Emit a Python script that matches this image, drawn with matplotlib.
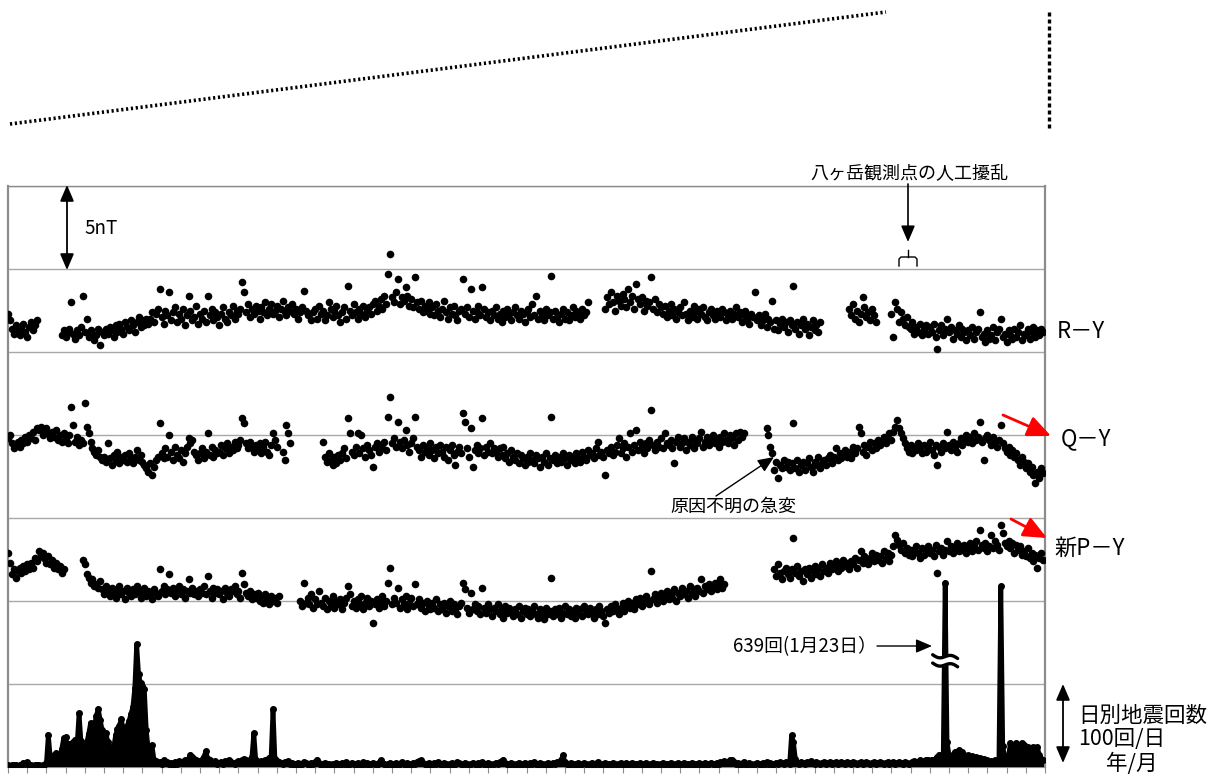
import numpy as np
import matplotlib
matplotlib.use("Agg")
from matplotlib import pyplot as plt

plt.rcParams['font.family'] = ['Noto Sans CJK JP', 'DejaVu Sans']

nan = np.nan

# ---- magnetic field differences (nT, plotted with offsets), one value per day ----
# R-Y : segments start day + values
ry_start = [0, 28, 311, 438, 460]
ry_vals = [
    [27.3, 26.9, 26.4, 26.1, 26.6, 26.3, 26.0, 26.4, 26.7, 26.2, 25.9, 26.5, 26.8, 26.3, 26.6, 26.9],
    [26.0, 26.3, 25.9, 26.2, 26.4, 28.0, 26.1, 25.8, 26.3, 26.0,
     26.5, 28.4, 26.2, 27.0, 25.9, 26.3, 26.1, 25.7, 26.0, 26.4,
     25.4, 26.2, 26.0, 26.4, 26.1, 26.5, 26.3, 25.9, 26.6, 26.2,
     26.7, 26.4, 26.1, 26.8, 26.5, 26.3, 26.9, 26.6, 26.2, 26.8,
     27.1, 26.5, 26.9, 26.6, 27.0, 26.7, 27.0, 27.4, 26.8, 27.3,
     27.6, 28.8, 27.1, 26.7, 27.5, 27.2, 28.6, 26.9, 27.4, 27.7,
     26.8, 27.3, 27.0, 27.6, 26.6, 27.2, 28.4, 27.5, 26.9, 27.1,
     27.8, 26.7, 27.3, 27.0, 27.5, 26.8, 28.4, 27.2, 27.6, 26.9,
     27.4, 27.1, 26.6, 27.3, 27.7, 27.0, 26.8, 27.4, 27.2, 27.8,
     27.0, 27.5, 27.3, 27.6, 29.2, 28.6, 27.4, 27.9, 27.1, 27.6,
     27.3, 27.8, 27.5, 27.0, 27.7, 27.4, 28.0, 27.2, 27.6, 27.9,
     27.3, 27.5, 27.8, 27.1, 27.6, 28.1, 27.4, 27.2, 27.7, 27.5,
     27.9, 27.3, 27.6, 27.0, 27.4, 27.7, 28.7, 27.5, 27.2, 27.3,
     26.9, 27.4, 27.6, 27.0, 27.8, 27.3, 27.5, 26.9, 27.2, 28.0,
     27.6, 27.1, 27.5, 27.8, 27.2, 26.8, 27.4, 27.7, 27.0, 29.0,
     27.5, 27.2, 27.9, 27.4, 27.0, 27.6, 27.3, 27.8, 27.1, 27.5,
     27.7, 27.3, 27.9, 28.1, 27.5, 27.8, 28.2, 27.6, 28.4, 27.9,
     29.7, 30.9, 28.3, 28.0, 28.6, 29.4, 27.9, 28.3, 28.1, 28.9,
     28.4, 27.8, 28.2, 27.7, 29.5, 28.0, 27.6, 28.1, 27.4, 27.8,
     27.5, 28.0, 27.3, 27.7, 27.2, 27.9, 27.5, 27.1, 27.6, 28.1,
     27.4, 27.0, 27.7, 27.3, 27.8, 27.2, 26.9, 27.5, 27.6, 29.4,
     27.3, 27.7, 27.1, 28.8, 27.5, 27.0, 27.4, 27.8, 27.2, 28.9,
     27.6, 27.1, 27.4, 26.9, 27.5, 27.2, 27.7, 27.0, 27.3, 26.8,
     27.5, 27.1, 27.6, 27.3, 26.9, 27.4, 27.7, 27.2, 27.0, 27.5,
     27.3, 26.8, 27.4, 27.6, 27.1, 27.9, 27.2, 28.4, 27.0, 27.5,
     27.3, 26.9, 27.6, 27.2, 27.4, 29.6, 27.0, 27.5, 27.1, 26.8,
     27.3, 27.6, 27.0, 27.4, 26.9, 27.2, 27.7, 27.1, 27.5, 27.3,
     27.0, 27.6, 27.2, 27.4, 28.0],
    [27.6, 28.3, 27.9, 28.6, 28.0, 27.5, 28.4, 28.1, 27.8, 28.5,
     28.2, 27.7, 28.8, 28.0, 28.4, 27.6, 29.1, 28.2, 27.9, 28.3,
     27.5, 28.1, 27.8, 28.0, 29.5, 27.6, 28.2, 27.4, 27.9, 27.7,
     27.3, 27.8, 27.1, 27.5, 27.9, 27.2, 27.6, 27.0, 27.4, 27.7,
     27.2, 28.0, 27.3, 26.9, 27.5, 27.1, 27.8, 27.4, 27.0, 27.6,
     27.3, 27.7, 27.1, 26.9, 27.4, 27.6, 27.2, 27.0, 27.5, 27.3,
     27.1, 27.6, 27.4, 26.9, 27.2, 27.5, 27.0, 27.3, 27.7, 27.1,
     27.4, 26.8, 27.2, 27.5, 27.0, 26.7, 27.3, 27.1, 28.6, 26.9,
     27.2, 26.6, 26.9, 27.3, 26.5, 27.0, 26.8, 28.1, 26.4, 26.9,
     26.3, 26.7, 27.0, 26.5, 26.8, 26.2, 26.9, 26.6, 29.0, 26.4,
     26.8, 26.1, 26.6, 27.0, 26.4, 26.7, 26.0, 26.5, 26.9, 26.3,
     26.6, 26.2, 26.8],
    [27.6, 27.2, 27.9, 27.0, 27.5, 26.8, 27.3, 28.3, 27.7, 27.1, 27.4, 26.9, 27.6, 27.2, 26.8],
    [27.3, 25.9, 28.0, 27.6, 26.8, 27.4, 27.0, 26.6, 27.1, 26.5,
     26.4, 26.8, 26.1, 26.5, 26.2, 26.7, 26.0, 26.4, 26.6, 26.1,
     26.5, 26.2, 26.7, 25.9, 25.2, 26.3, 26.6, 26.0, 26.4, 27.0,
     26.2, 26.5, 25.8, 26.3, 26.1, 26.6, 25.9, 26.4, 26.2, 25.7,
     26.3, 26.0, 26.5, 25.8, 26.2, 26.4, 27.4, 25.9, 26.1, 25.6,
     26.3, 25.8, 26.0, 26.5, 25.7, 26.2, 26.4, 27.0, 25.9, 26.1,
     25.6, 26.3, 26.0, 25.8, 26.4, 25.9, 26.2, 26.6, 25.7, 26.1,
     26.0, 26.4, 25.8, 26.2, 26.5, 25.9, 26.3, 26.0, 26.4, 26.2],
]

# Q-Y
qy_start = [0, 164, 395]
qy_vals = [
    [19.8, 20.0, 19.5, 19.2, 19.4, 19.6, 19.3, 19.7, 19.5, 19.9,
     19.6, 20.0, 19.8, 20.2, 19.7, 20.4, 20.3, 20.5, 20.0, 20.2,
     20.4, 20.1, 19.8, 20.2, 19.9, 20.3, 19.7, 20.0, 19.6, 20.1,
     19.8, 19.5, 20.0, 21.7, 20.6, 19.6, 19.9, 19.4, 19.7, 19.5,
     21.9, 20.5, 20.1, 19.6, 19.2, 19.0, 18.8, 19.1, 18.7, 18.5,
     18.7, 18.4, 19.5, 18.6, 18.2, 18.8, 18.5, 19.0, 18.3, 18.7,
     18.5, 18.8, 18.4, 18.9, 18.6, 18.3, 18.7, 19.1, 18.5, 18.8,
     18.4, 18.2, 18.0, 17.8, 18.3, 17.6, 18.1, 18.5, 18.7, 20.7,
     18.9, 18.6, 19.2, 18.7, 20.0, 19.0, 18.5, 19.3, 18.8, 18.6,
     19.1, 18.4, 18.9, 19.3, 19.8, 19.5, 19.7, 19.0, 18.8, 18.5,
     18.9, 19.2, 18.6, 19.0, 20.1, 18.8, 19.3, 18.7, 19.1, 18.9,
     19.0, 19.4, 18.8, 19.2, 19.5, 18.9, 19.3, 19.1, 19.6, 19.2,
     19.4, 19.7, 21.0, 20.7, 19.5, 19.2, 19.6, 19.3, 19.0, 19.4,
     19.1, 19.5, 18.9, 19.3, 19.6, 19.0, 18.8, 19.4, 20.1, 19.7,
     19.3, nan, nan, 19.0, 18.5, 20.6, 20.1, 19.5],
    [19.6, 18.7, 18.4, 18.9, 18.5, 18.2, 18.7, 18.3, 18.8, 18.5,
     18.9, 19.2, 18.6, 21.0, 20.1, 19.0, 18.8, 19.3, 20.1, 18.9,
     20.0, 19.2, 18.7, 19.4, 19.1, 18.8, 18.1, 19.3, 19.5, 19.0,
     19.4, 19.2, 19.6, 19.1, 21.1, 22.3, 19.5, 19.8, 19.3, 20.8,
     19.6, 19.2, 19.7, 20.3, 19.4, 19.0, 19.5, 19.8, 21.1, 19.3,
     19.1, 18.7, 19.4, 19.0, 19.2, 18.8, 19.5, 19.1, 18.6, 19.3,
     18.9, 19.4, 19.0, 18.7, 19.3, 18.5, 19.1, 19.4, 18.8, 18.2,
     19.0, 19.3, 18.9, 21.3, 20.8, 19.2, 18.7, 20.4, 18.1, 19.1,
     19.4, 18.9, 19.2, 21.0, 18.8, 19.3, 19.0, 19.5, 18.9, 19.2,
     19.0, 18.7, 19.2, 18.8, 19.3, 18.6, 18.9, 18.4, 19.1, 18.7,
     18.5, 18.9, 18.3, 18.8, 18.6, 18.2, 18.7, 18.4, 18.9, 18.5,
     18.3, 18.8, 18.6, 18.1, 18.7, 18.4, 18.9, 18.2, 18.6, 21.1,
     18.5, 18.8, 18.3, 18.7, 18.4, 18.9, 18.6, 18.2, 18.8, 18.5,
     18.7, 18.3, 18.9, 18.6, 18.4, 19.0, 18.7, 18.5, 19.1, 18.8,
     18.9, 18.6, 19.2, 19.6, 18.8, 19.0, 18.7, 17.6, 19.1, 18.9,
     19.3, 18.8, 19.0, 19.4, 19.8, 18.9, 19.2, 19.5, 18.7, 19.3,
     20.1, 19.0, 19.4, 20.3, 19.1, 19.6, 19.3, 18.9, 19.5, 19.2,
     19.7, 21.5, 19.4, 19.1, 19.6, 19.3, 19.8, 19.2, 20.1, 19.5,
     19.4, 19.7, 19.2, 18.3, 19.6, 19.9, 19.3, 19.5, 19.8, 19.1,
     19.6, 19.4, 19.9, 19.2, 19.7, 19.5, 19.8, 20.2, 19.3, 19.6,
     19.9, 19.4, 19.7, 20.0, 19.5, 19.8, 19.3, 19.9, 19.6, 20.1,
     19.7, 19.5, 20.0, 19.8, 19.4, 20.1, 19.7, 20.2, 19.9, 20.1],
    [20.4, 20.0, 19.3, 18.9, 17.9, 18.4, 17.4, 18.2, 18.0, 18.5,
     18.1, 18.4, 17.9, 18.3, 20.7, 18.0, 18.5, 17.8, 18.2, 18.4,
     17.9, 18.3, 18.6, 18.1, 17.8, 18.4, 18.2, 18.7, 18.0, 18.3,
     18.5, 18.2, 18.6, 18.8, 18.3, 18.7, 19.2, 18.5, 18.9, 18.6,
     18.8, 19.1, 18.7, 19.0, 18.6, 19.3, 18.9, 19.2, 20.5, 20.1,
     19.0, 19.4, 18.8, 19.3, 19.6, 19.1, 19.5, 19.2, 19.7, 19.4,
     19.6, 19.9, 19.5, 19.8, 20.1, 19.7, 20.2, 20.5, 20.9, 20.4,
     20.1, 19.8, 19.5, 19.2, 19.0, 19.4, 18.9, 19.3, 19.1, 19.5,
     19.2, 18.9, 19.4, 19.0, 19.3, 19.6, 19.1, 18.8, 19.4, 18.2,
     19.3, 19.0, 19.5, 19.2, 20.2, 19.4, 19.1, 19.6, 19.3, 19.0,
     19.5, 19.8, 19.4, 19.7, 20.0, 19.6, 19.9, 19.5, 20.1, 19.7,
     19.9, 20.8, 19.6, 18.5, 19.8, 20.0, 19.7, 19.4, 19.9, 19.6,
     19.3, 19.7, 20.6, 19.5, 19.2, 19.0, 19.3, 18.8, 19.1, 18.7,
     18.9, 18.5, 18.2, 18.7, 18.4, 18.0, 18.3, 17.8, 18.1, 17.6,
     17.1, 17.8, 17.4, 18.0, 17.7],
]

# new P-Y
py_start = [0, 39, 152, 399]
py_vals = [
    [12.9, 12.3, 11.6, 11.9, 11.4, 11.8, 12.0, 11.7, 12.1, 11.8,
     12.2, 11.9, 12.3, 12.0, 12.6, 12.4, 13.0, 12.7, 12.9, 12.6,
     12.3, 12.7, 12.2, 12.5, 12.0, 12.3, 11.9, 12.1, 11.7, 11.9],
    [12.5, 12.2, 11.6, 11.4, 11.1, 11.3, 10.9, 11.0, 10.8, 11.2,
     10.7, 10.4, 10.9, 10.6, 10.3, 10.8, 10.5, 10.2, 10.7, 10.9,
     10.4, 10.6, 10.1, 10.8, 10.5, 10.3, 10.7, 10.4, 10.9, 10.6,
     10.2, 10.5, 10.8, 10.3, 10.6, 10.4, 10.1, 10.7, 10.5, 10.3,
     11.9, 10.6, 10.9, 10.4, 10.7, 11.6, 10.5, 10.8, 10.3, 10.6,
     10.9, 10.4, 10.7, 10.2, 10.6, 11.3, 10.5, 10.8, 10.4, 10.6,
     10.3, 10.7, 10.5, 10.9, 10.4, 11.5, 10.6, 10.2, 10.8, 10.5,
     10.7, 10.4, 10.6, 10.1, 10.8, 10.5, 10.3, 10.7, 10.6, 10.9,
     10.4, 10.6, 10.2, 11.7, 11.0, 10.5, 10.3, 10.6, 10.1, 10.4,
     10.2, 10.5, 10.0, 10.3, 9.9, 10.4, 10.1, 9.8, 10.3, 10.0,
     10.2, 9.9, 10.3],
    [10.0, 9.7, 11.1, 9.9, 10.2, 9.8, 10.4, 9.6, 10.1, 9.8,
     10.6, 9.9, 9.7, 10.2, 9.5, 10.0, 9.8, 10.3, 9.6, 10.0,
     9.8, 10.1, 9.5, 9.9, 10.2, 10.9, 10.4, 9.7, 10.0, 9.6,
     10.1, 9.8, 10.3, 9.5, 9.9, 10.2, 9.7, 10.0, 8.7, 9.8,
     10.1, 9.6, 9.9, 10.3, 9.7, 10.0, 11.1, 12.0, 9.8, 10.2,
     9.9, 10.8, 9.6, 10.1, 9.8, 10.3, 9.5, 9.9, 10.2, 9.7,
     11.0, 9.8, 10.1, 9.6, 9.9, 9.4, 10.0, 9.7, 9.5, 9.9,
     9.6, 10.1, 9.4, 9.8, 9.5, 9.9, 9.3, 9.7, 10.0, 9.4,
     9.8, 9.5, 9.2, 9.7, 9.9, 11.1, 10.7, 9.6, 9.3, 10.5,
     9.5, 9.8, 9.4, 9.7, 9.2, 10.8, 9.6, 9.3, 9.8, 9.5,
     9.1, 9.6, 9.4, 9.8, 9.2, 9.5, 9.0, 9.7, 9.3, 9.6,
     9.4, 9.1, 9.5, 9.2, 9.7, 9.0, 9.4, 9.6, 9.2, 9.5,
     9.1, 9.4, 9.7, 9.2, 9.0, 9.5, 9.3, 8.9, 9.6, 9.2,
     9.4, 11.4, 9.1, 9.5, 9.2, 9.6, 9.0, 9.3, 9.7, 9.2,
     9.5, 9.1, 9.4, 9.0, 9.6, 9.3, 9.5, 9.1, 9.7, 9.4,
     9.2, 9.6, 9.3, 9.0, 9.5, 9.2, 9.7, 9.4, 9.1, 8.7,
     9.5, 9.3, 9.7, 9.4, 9.8, 9.5, 9.2, 9.6, 9.9, 9.4,
     9.7, 10.0, 9.6, 9.9, 9.5, 10.1, 9.8, 10.2, 9.7, 9.9,
     10.3, 10.0, 9.8, 11.8, 10.1, 10.4, 9.9, 10.2, 10.5, 10.0,
     10.3, 10.6, 10.1, 10.4, 10.2, 10.7, 10.0, 10.5, 10.3, 10.8,
     10.4, 10.6, 10.2, 10.9, 10.5, 10.7, 10.3, 10.8, 10.6, 11.3,
     10.5, 10.9, 10.7, 11.0, 10.6, 10.8, 11.1, 10.7, 10.9, 11.3,
     10.8, 11.0],
    [11.9, 11.5, 12.2, 11.7, 11.3, 11.8, 12.0, 11.6, 11.4, 11.9,
     13.8, 11.7, 12.1, 11.5, 11.8, 11.2, 11.9, 11.6, 12.0, 11.4,
     11.8, 12.1, 11.6, 11.9, 11.5, 12.2, 11.8, 12.0, 11.7, 12.3,
     11.9, 12.1, 12.4, 11.8, 12.2, 12.0, 12.5, 12.1, 12.3, 11.9,
     12.4, 12.2, 12.6, 12.0, 12.5, 13.0, 12.3, 12.7, 12.4, 12.2,
     12.6, 12.9, 12.4, 12.8, 12.5, 12.7, 12.3, 13.0, 12.6, 12.9,
     12.4, 12.8, 13.3, 14.0, 13.7, 13.4, 13.1, 13.5, 12.9, 13.2,
     12.8, 13.1, 12.7, 13.0, 13.3, 12.9, 12.6, 13.2, 12.8, 13.0,
     13.3, 12.9, 13.1, 12.7, 13.4, 11.7, 13.0, 13.2, 12.8, 13.1,
     13.6, 13.0, 13.3, 12.9, 13.2, 13.5, 13.0, 13.3, 13.1, 13.4,
     12.9, 13.2, 13.5, 13.0, 13.3, 13.6, 13.1, 14.3, 13.4, 13.2,
     13.5, 13.0, 13.3, 14.0, 13.2, 13.6, 13.4, 13.1, 14.6, 14.1,
     13.5, 13.3, 13.6, 13.2, 13.5, 12.9, 13.4, 13.1, 13.3, 12.8,
     13.0, 12.7, 13.2, 12.6, 12.9, 12.4, 12.8, 12.0, 12.6, 12.9,
     12.5],
]

# daily earthquake counts (times/day)
quake_counts = [
    2, 1, 2, 3, 2, 1, 2, 3, 5, 4, 6, 3, 2, 1, 2, 3, 2, 1, 2, 3,
    5, 39, 12, 9, 14, 17, 11, 8, 22, 35, 36, 24, 28, 20, 30, 33, 28, 65, 31, 27,
    25, 29, 40, 53, 45, 50, 62, 70, 57, 45, 38, 41, 30, 24, 19, 23, 38, 46, 50, 58,
    45, 40, 49, 55, 64, 72, 95, 148, 112, 101, 98, 94, 45, 22, 15, 26, 9, 7, 5, 6,
    4, 8, 5, 6, 4, 5, 3, 6, 4, 7, 5, 6, 8, 7, 10, 15, 12, 10, 8, 6,
    7, 9, 12, 19, 10, 8, 6, 5, 7, 4, 5, 6, 4, 7, 5, 8, 6, 5, 4, 6,
    7, 5, 8, 10, 8, 6, 9, 12, 41, 9, 6, 5, 7, 6, 8, 9, 11, 12, 70, 10,
    7, 6, 5, 4, 6, 5, 7, 4, 5, 3, 4, 5, 3, 4, 6, 5, 4, 3, 5, 4,
    6, 9, 5, 3, 4, 5, 3, 4, 2, 4, 3, 5, 4, 3, 5, 4, 6, 3, 4, 5,
    4, 3, 5, 4, 3, 6, 4, 5, 3, 4, 5, 4, 3, 5, 8, 5, 4, 3, 4, 5,
    3, 4, 5, 3, 4, 6, 4, 3, 5, 4, 3, 5, 4, 6, 7, 8, 5, 4, 3, 5,
    4, 3, 5, 4, 6, 4, 3, 5, 4, 3, 4, 5, 3, 4, 6, 5, 4, 3, 5, 4,
    3, 4, 5, 4, 3, 5, 4, 6, 4, 3, 5, 4, 3, 4, 5, 4, 6, 7, 9, 5,
    4, 3, 5, 4, 3, 4, 5, 3, 4, 5, 4, 3, 5, 4, 6, 4, 3, 5, 4, 3,
    4, 5, 3, 4, 5, 4, 6, 5, 8, 14, 6, 4, 3, 5, 4, 3, 4, 5, 3, 4,
    5, 4, 3, 4, 5, 3, 4, 6, 4, 3, 4, 5, 3, 4, 3, 5, 4, 3, 4, 5,
    3, 4, 5, 3, 4, 5, 3, 4, 3, 5, 4, 3, 5, 4, 3, 4, 5, 3, 4, 3,
    4, 5, 3, 4, 3, 5, 4, 3, 4, 5, 3, 4, 5, 3, 4, 3, 5, 4, 3, 4,
    5, 3, 4, 5, 3, 4, 5, 4, 3, 5, 4, 6, 5, 7, 6, 5, 8, 9, 6, 4,
    5, 3, 4, 6, 4, 3, 5, 4, 3, 4, 5, 4, 3, 5, 4, 6, 4, 5, 3, 4,
    5, 4, 6, 5, 4, 6, 5, 4, 38, 30, 10, 5, 4, 6, 5, 4, 6, 5, 7, 5,
    4, 6, 5, 4, 5, 6, 4, 5, 6, 4, 5, 6, 4, 5, 6, 5, 4, 6, 5, 4,
    6, 5, 4, 5, 6, 4, 5, 6, 5, 4, 5, 6, 4, 5, 6, 5, 4, 5, 6, 4,
    5, 6, 4, 5, 6, 5, 4, 6, 5, 4, 5, 6, 7, 5, 6, 8, 7, 6, 9, 8,
    7, 9, 8, 10, 12, 15, 10, 14, 639, 30, 15, 12, 14, 18, 15, 20, 16, 18, 15, 12,
    14, 11, 13, 10, 12, 9, 11, 8, 10, 7, 8, 6, 7, 6, 8, 7, 9, 218, 25, 12,
    10, 14, 29, 18, 24, 29, 20, 16, 29, 26, 22, 24, 20, 18, 24, 20, 24, 15, 10, 8,
]
n_days = 540
count_cap = 222   # tall spike drawn broken at this height

fig = plt.figure(figsize=(12.16, 7.76), dpi=100)
ax = fig.add_axes([8/1216, 9/776, 1037/1216, 581/776])
ax.set_xlim(0, n_days)
ax.set_ylim(0, 35)
ax.set_yticks(np.arange(0, 36, 5))
ax.yaxis.grid(True, color='#a8a8a8', lw=1.0)
ax.set_axisbelow(True)
ax.tick_params(axis='y', length=0, labelleft=False)
ax.set_xticks(np.arange(0, n_days + 1, 10))
ax.tick_params(axis='x', length=4, width=0.8, color='#8c8c8c', labelbottom=False)
for side in ['left', 'right', 'top', 'bottom']:
    ax.spines[side].set_color('#8c8c8c')
ax.spines['left'].set_linewidth(1.6)
ax.spines['right'].set_linewidth(1.6)
ax.spines['top'].set_linewidth(1.0)
ax.spines['bottom'].set_linewidth(0.8)

for starts, vals in [(ry_start, ry_vals), (qy_start, qy_vals), (py_start, py_vals)]:
    for s, v in zip(starts, vals):
        d = s + np.arange(len(v))
        ax.scatter(d, v, s=30, c='k', linewidths=0, zorder=3)

# earthquake counts on a twin scale (100 per grid step)
ax2 = ax.twinx()
ax2.set_ylim(0, 700)
ax2.axis('off')
days = np.arange(len(quake_counts))
shown = np.minimum(np.array(quake_counts, float), count_cap)
ax2.bar(days, shown, width=1.0, color='k', zorder=3)
ax2.plot(days, shown, color='k', lw=3.4, marker='o', ms=4, solid_capstyle='round',
         solid_joinstyle='round', zorder=3)
# break mark on the 639 spike
spike = int(np.argmax(quake_counts))
bx = np.linspace(spike - 6.5, spike + 6.5, 24)
upper = 133 + 2.5 * np.sin((bx - spike) / 6.5 * np.pi) - 0.35 * (bx - spike)
lower = upper - 10
ax2.fill_between(bx, lower, upper, color='white', zorder=4)
ax2.plot(bx, upper, color='k', lw=2.4, zorder=5, solid_capstyle='round')
ax2.plot(bx, lower, color='k', lw=2.4, zorder=5, solid_capstyle='round')

# overlay in pixel units for labels / decorations
ov = fig.add_axes([0, 0, 1, 1], zorder=10)
ov.set_xlim(0, 1216)
ov.set_ylim(776, 0)
ov.axis('off')
ov.patch.set_alpha(0)

ov.plot([10, 886], [124, 12], color='k', lw=2.6, dashes=(0.6, 0.75))
ov.plot([1049, 1049], [12, 128], color='k', lw=2.4, dashes=(1.2, 0.9))

ov.annotate('', xy=(67, 185), xytext=(67, 270),
            arrowprops=dict(arrowstyle='<|-|>,head_length=0.7,head_width=0.3', color='k', lw=1.3,
                            mutation_scale=14, shrinkA=0, shrinkB=0))
ov.text(84, 228, '5nT', fontsize=13.5, va='center', ha='left')

ov.text(909, 173, '八ヶ岳観測点の人工擾乱', fontsize=13, ha='center', va='center')
ov.annotate('', xy=(908, 242), xytext=(908, 184),
            arrowprops=dict(arrowstyle='-|>,head_length=0.7,head_width=0.3', color='k', lw=1.2,
                            mutation_scale=14, shrinkA=0, shrinkB=0))
ov.plot([899, 899, 901, 915, 917, 917], [266, 259, 257, 257, 259, 266], color='k', lw=1.0)
ov.plot([908, 908], [250, 257], color='k', lw=1.0)

ov.text(1057, 332, 'R－Y', fontsize=16, ha='left', va='center')
ov.text(1061, 439, 'Q－Y', fontsize=16, ha='left', va='center')
ov.text(1054, 548, '新P－Y', fontsize=16, ha='left', va='center')
for (x0, y0), (x1, y1) in [((1003, 415), (1051, 436)), ((1011, 519), (1047, 538))]:
    ov.annotate('', xy=(x1, y1), xytext=(x0, y0),
                arrowprops=dict(arrowstyle='-|>,head_length=0.75,head_width=0.33', color='red', lw=2,
                                mutation_scale=19, shrinkA=0, shrinkB=0))

ov.text(733, 507, '原因不明の急変', fontsize=13, ha='center', va='center')
ov.annotate('', xy=(774, 457), xytext=(716, 496),
            arrowprops=dict(arrowstyle='-|>,head_length=0.7,head_width=0.3', color='k', lw=1.0,
                            mutation_scale=14, shrinkA=0, shrinkB=0))

ov.text(733, 647, '639回(1月23日）', fontsize=13.5, ha='left', va='center')
ov.annotate('', xy=(932, 646), xytext=(877, 646),
            arrowprops=dict(arrowstyle='-|>,head_length=0.7,head_width=0.3', color='k', lw=1.0,
                            mutation_scale=14, shrinkA=0, shrinkB=0))

ov.annotate('', xy=(1063, 684), xytext=(1063, 763),
            arrowprops=dict(arrowstyle='<|-|>,head_length=0.7,head_width=0.3', color='k', lw=1.3,
                            mutation_scale=14, shrinkA=0, shrinkB=0))
ov.text(1078, 716, '日別地震回数', fontsize=15.5, ha='left', va='center')
ov.text(1078, 739, '100回/日', fontsize=15.5, ha='left', va='center')
ov.text(1106, 775, '年/月', fontsize=15.5, ha='left', va='bottom')

fig.savefig('out.png', dpi=100)
